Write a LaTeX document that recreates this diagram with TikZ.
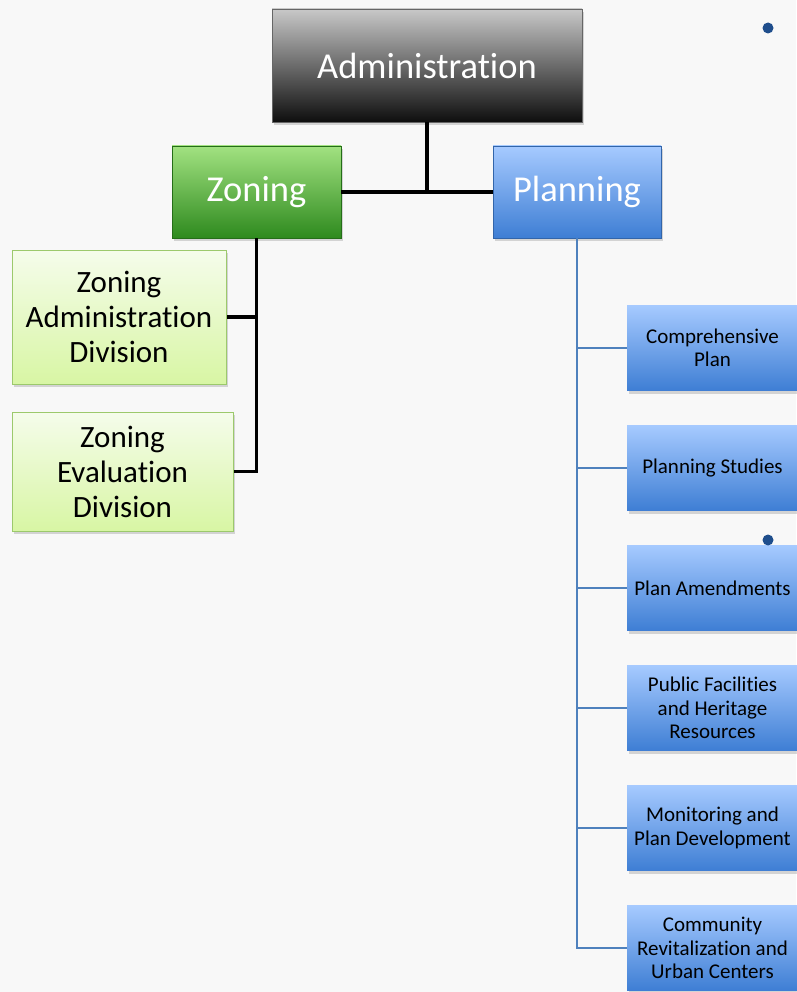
\documentclass[tikz,border=0pt]{standalone}
\usepackage{fontspec}
\setmainfont{Carlito}[Ligatures={NoCommon}]
\usetikzlibrary{shadows}
\definecolor{bg}{HTML}{F8F8F8}
\definecolor{admtop}{HTML}{C8C8C8}
\definecolor{admbot}{HTML}{0E0E0E}
\definecolor{grtop}{HTML}{A2E281}
\definecolor{grbot}{HTML}{2E8A1E}
\definecolor{bltop}{HTML}{A6CAFF}
\definecolor{blbot}{HTML}{3E7ED4}
\definecolor{lgtop}{HTML}{F5FCEB}
\definecolor{lgbot}{HTML}{D8F6A4}
\definecolor{lgborder}{HTML}{9CC96C}
\definecolor{blline}{HTML}{4F81BD}
\definecolor{dotc}{HTML}{1F4E8C}
\tikzset{
  boxbase/.style={rectangle, inner sep=0pt, align=center,
    drop shadow={opacity=0.3, shadow xshift=2pt, shadow yshift=-3pt}},
  admbox/.style={boxbase, top color=admtop, bottom color=admbot, draw=black!60, line width=0.6pt,
    text=white, font=\fontsize{36.5}{40}\selectfont},
  grbox/.style={boxbase, top color=grtop, bottom color=grbot, draw=grbot!80!black, line width=0.6pt,
    text=white, font=\fontsize{36.5}{40}\selectfont},
  blbox/.style={boxbase, top color=bltop, bottom color=blbot, draw=blbot!80!black, line width=0.6pt,
    text=white, font=\fontsize{36.5}{40}\selectfont},
  lgbox/.style={boxbase, top color=lgtop, bottom color=lgbot, draw=lgborder, line width=1pt,
    text=black, font=\fontsize{31}{35}\selectfont},
  rbox/.style={boxbase, top color=bltop, bottom color=blbot, draw=none,
    text=black, font=\fontsize{21}{23.5}\selectfont,
    minimum width=171pt, minimum height=85pt},
  blkline/.style={line width=3.5pt, draw=black},
  bluline/.style={line width=1.8pt, draw=blline},
}
\begin{document}
\begin{tikzpicture}[x=1pt, y=-1pt]
\fill[bg] (0,0) rectangle (796,992);
\useasboundingbox (0,0) rectangle (796,992);

\node[admbox, minimum width=310pt, minimum height=113pt] (admin) at (427,65.5) {Administration};
\node[grbox, minimum width=169pt, minimum height=92pt] (zoning) at (256.5,192) {Zoning};
\node[blbox, minimum width=168pt, minimum height=92pt] (planning) at (577,192) {Planning};

\node[lgbox, minimum width=214pt, minimum height=134pt] (zad) at (119,317) {Zoning\\Administration\\Division};
\node[lgbox, minimum width=221pt, minimum height=119pt] (zed) at (122.5,471.5) {Zoning\\Evaluation\\Division};

\node[rbox] (r1) at (712.5,348) {Comprehensive\\Plan};
\node[rbox] (r2) at (712.5,468) {Planning Studies};
\node[rbox] (r3) at (712.5,588) {Plan Amendments};
\node[rbox] (r4) at (712.5,708) {Public Facilities\\and Heritage\\Resources};
\node[rbox] (r5) at (712.5,828) {Monitoring and\\Plan Development};
\node[rbox] (r6) at (712.5,948) {Community\\Revitalization and\\Urban Centers};

\draw[blkline] (admin.south) -- (admin.south |- zoning.east);
\draw[blkline] (zoning.east) -- (planning.west);
\draw[blkline] (zoning.south) |- (zad.east);
\draw[blkline] (zoning.south) |- (zed.east);
\foreach \r in {r1,r2,r3,r4,r5,r6}{
  \draw[bluline] (planning.south) |- (\r.west);
}

\fill[dotc] (768,28) circle [radius=5.5pt];
\fill[dotc] (768,540) circle [radius=5.5pt];
\end{tikzpicture}
\end{document}
